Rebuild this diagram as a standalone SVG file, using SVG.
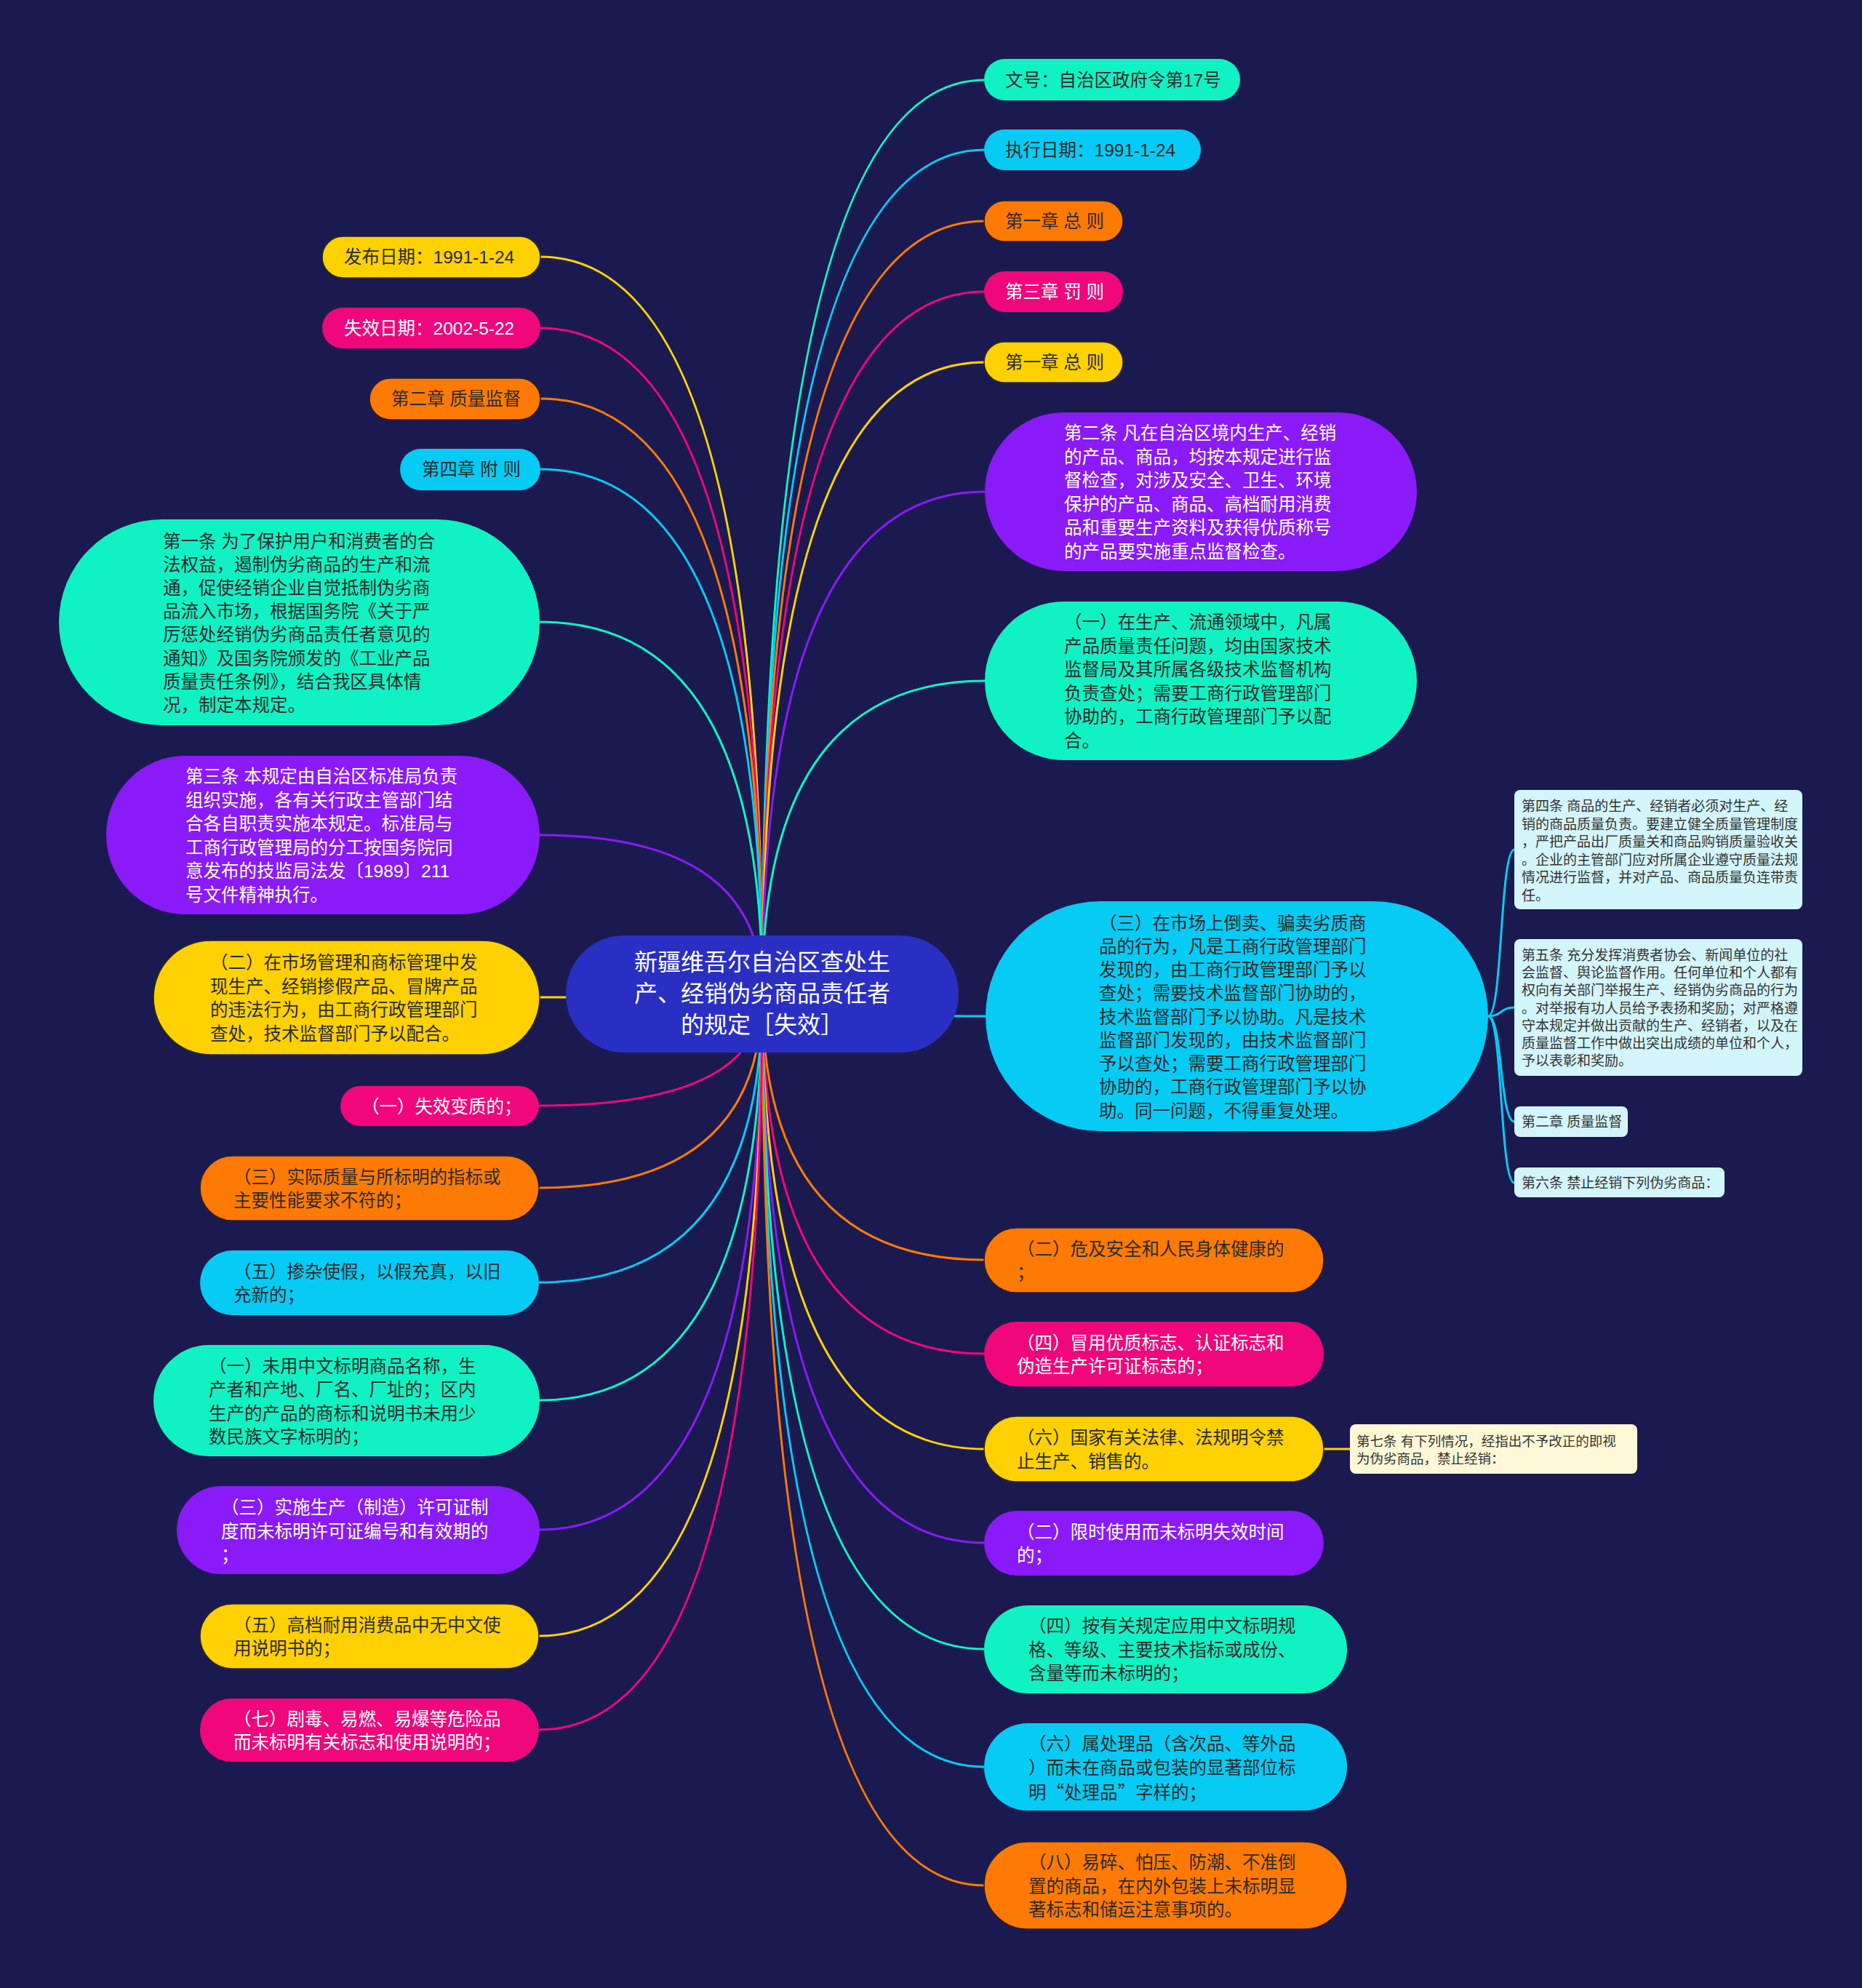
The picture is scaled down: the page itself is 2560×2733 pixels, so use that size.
<svg xmlns="http://www.w3.org/2000/svg" width="2560" height="2733" viewBox="0 0 2560 2733">
<style>
.mint{fill:#10F2C4}.cyan{fill:#06CBF4}.orange{fill:#FF7A05;stroke:#2a2020;stroke-width:1.5}.pink{fill:#F0077B}.yellow{fill:#FFD103;stroke:#2a2a1a;stroke-width:1.5}.purple{fill:#8A1AF7}.root{fill:#2A2FC4}.sub{fill:#D3F5FC}.note{fill:#FFF8D6}
.c{fill:none;stroke-width:3}
.cm{stroke:#10F2C4}.cc{stroke:#06CBF4}.co{stroke:#FF7A05}.cp{stroke:#F0077B}.cy{stroke:#FFD103}.cu{stroke:#8A1AF7}
text{font-family:"Liberation Sans","Noto Sans CJK SC",sans-serif;font-size:24.5px;dominant-baseline:central}
.cjk{font-family:"Noto Sans CJK SC",sans-serif}
.d{fill:#2b2b2b}.w{fill:#ffffff}
.rt{font-size:32px;text-anchor:middle;fill:#ffffff}
.s{font-size:19px;fill:#333333}
.s2{font-size:18.5px;fill:#333333}
</style>
<rect x="0" y="0" width="2560" height="2733" fill="#1B1A50"/>
<g id="connectors">
<path class="c cm" d="M1048 1366 Q1048 110 1353 110"/>
<path class="c cc" d="M1048 1366 Q1048 206 1353 206"/>
<path class="c co" d="M1048 1366 Q1048 304 1353 304"/>
<path class="c cp" d="M1048 1366 Q1048 401 1353 401"/>
<path class="c cy" d="M1048 1366 Q1048 498 1353 498"/>
<path class="c cu" d="M1048 1366 Q1048 676 1354 676"/>
<path class="c cm" d="M1048 1366 Q1048 936 1354 936"/>
<path class="c cc" d="M1048 1366 Q1048 1397 1355 1397"/>
<path class="c co" d="M1048 1366 Q1048 1732 1353 1732"/>
<path class="c cp" d="M1048 1366 Q1048 1861 1353 1861"/>
<path class="c cy" d="M1048 1366 Q1048 1992 1353 1992"/>
<path class="c cu" d="M1048 1366 Q1048 2121 1353 2121"/>
<path class="c cm" d="M1048 1366 Q1048 2267 1353 2267"/>
<path class="c cc" d="M1048 1366 Q1048 2429 1353 2429"/>
<path class="c co" d="M1048 1366 Q1048 2592 1353 2592"/>
<path class="c cy" d="M1048 1366 Q1048 353 743 353"/>
<path class="c cp" d="M1048 1366 Q1048 451 743 451"/>
<path class="c co" d="M1048 1366 Q1048 548 743 548"/>
<path class="c cc" d="M1048 1366 Q1048 645 743 645"/>
<path class="c cm" d="M1048 1366 Q1048 855 742 855"/>
<path class="c cu" d="M1048 1366 Q1048 1148 742 1148"/>
<path class="c cy" d="M1048 1366 Q1048 1371 742 1371"/>
<path class="c cp" d="M1048 1366 Q1048 1520 741 1520"/>
<path class="c co" d="M1048 1366 Q1048 1633 741 1633"/>
<path class="c cc" d="M1048 1366 Q1048 1763 741 1763"/>
<path class="c cm" d="M1048 1366 Q1048 1925 742 1925"/>
<path class="c cu" d="M1048 1366 Q1048 2103 742 2103"/>
<path class="c cy" d="M1048 1366 Q1048 2249 741 2249"/>
<path class="c cp" d="M1048 1366 Q1048 2378 741 2378"/>
<path class="c cc" d="M2046 1397 C2066 1397 2062 1168 2082 1168"/>
<path class="c cc" d="M2046 1397 C2066 1397 2062 1385 2082 1385"/>
<path class="c cc" d="M2046 1397 C2066 1397 2062 1542 2082 1542"/>
<path class="c cc" d="M2046 1397 C2066 1397 2062 1626 2082 1626"/>
<path class="c cy" d="M1820 1992 L1856 1992"/>
</g>
<g id="root">
<rect class="root" x="778" y="1286" width="540" height="161" rx="80"/>
<text class="rt"><tspan x="1048" y="1323">新疆维吾尔自治区查处生</tspan><tspan x="1048" y="1366">产、经销伪劣商品责任者</tspan><tspan x="1048" y="1409">的规定［失效］</tspan></text>
</g>
<g id="n-wenhao">
<rect class="mint" x="1353" y="81" width="352" height="57" rx="28.5"/>
<text class="d" x="1382" y="110">文号：自治区政府令第17号</text>
</g>
<g id="n-zhixing">
<rect class="cyan" x="1353" y="178" width="298" height="56" rx="28"/>
<text class="d" x="1382" y="206">执行日期：1991-1-24</text>
</g>
<g id="n-ch1a">
<rect class="orange" x="1353" y="276" width="191" height="56" rx="28"/>
<text class="d" x="1382" y="304">第一章 总 则</text>
</g>
<g id="n-ch3">
<rect class="pink" x="1353" y="373" width="191" height="56" rx="28"/>
<text class="w" x="1382" y="401">第三章 罚 则</text>
</g>
<g id="n-ch1b">
<rect class="yellow" x="1353" y="470" width="191" height="56" rx="28"/>
<text class="d" x="1382" y="498">第一章 总 则</text>
</g>
<g id="n-art2">
<rect class="purple" x="1354" y="567" width="594" height="218" rx="109"/>
<text class="w"><tspan x="1463" y="595">第二条 凡在自治区境内生产、经销</tspan><tspan x="1463" y="627.5">的产品、商品，均按本规定进行监</tspan><tspan x="1463" y="660">督检查，对涉及安全、卫生、环境</tspan><tspan x="1463" y="692.5">保护的产品、商品、高档耐用消费</tspan><tspan x="1463" y="725">品和重要生产资料及获得优质称号</tspan><tspan x="1463" y="757.5">的产品要实施重点监督检查。</tspan></text>
</g>
<g id="n-r-1">
<rect class="mint" x="1354" y="827" width="594" height="218" rx="109"/>
<text class="d"><tspan x="1463" y="855">（一）在生产、流通领域中，凡属</tspan><tspan x="1463" y="887.5">产品质量责任问题，均由国家技术</tspan><tspan x="1463" y="920">监督局及其所属各级技术监督机构</tspan><tspan x="1463" y="952.5">负责查处；需要工商行政管理部门</tspan><tspan x="1463" y="985">协助的，工商行政管理部门予以配</tspan><tspan x="1463" y="1017.5">合。</tspan></text>
</g>
<g id="n-r-3">
<rect class="cyan" x="1355" y="1239" width="691" height="316" rx="158"/>
<text class="d"><tspan x="1511" y="1268.5">（三）在市场上倒卖、骗卖劣质商</tspan><tspan x="1511" y="1300.8">品的行为，凡是工商行政管理部门</tspan><tspan x="1511" y="1333">发现的，由工商行政管理部门予以</tspan><tspan x="1511" y="1365.3">查处；需要技术监督部门协助的，</tspan><tspan x="1511" y="1397.5">技术监督部门予以协助。凡是技术</tspan><tspan x="1511" y="1429.8">监督部门发现的，由技术监督部门</tspan><tspan x="1511" y="1462">予以查处；需要工商行政管理部门</tspan><tspan x="1511" y="1494.3">协助的，工商行政管理部门予以协</tspan><tspan x="1511" y="1526.5">助。同一问题，不得重复处理。</tspan></text>
</g>
<g id="n-art4">
<rect class="sub" x="2082" y="1086" width="396" height="164" rx="8"/>
<text class="s"><tspan x="2092" y="1108">第四条 商品的生产、经销者必须对生产、经</tspan><tspan x="2092" y="1132.5">销的商品质量负责。要建立健全质量管理制度</tspan><tspan x="2092" y="1157">，严把产品出厂质量关和商品购销质量验收关</tspan><tspan x="2092" y="1181.5">。企业的主管部门应对所属企业遵守质量法规</tspan><tspan x="2092" y="1206">情况进行监督，并对产品、商品质量负连带责</tspan><tspan x="2092" y="1230.5">任。</tspan></text>
</g>
<g id="n-art5">
<rect class="sub" x="2082" y="1291" width="396" height="188" rx="8"/>
<text class="s"><tspan x="2092" y="1313">第五条 充分发挥消费者协会、新闻单位的社</tspan><tspan x="2092" y="1337.2">会监督、舆论监督作用。任何单位和个人都有</tspan><tspan x="2092" y="1361.4">权向有关部门举报生产、经销伪劣商品的行为</tspan><tspan x="2092" y="1385.6">。对举报有功人员给予表扬和奖励；对严格遵</tspan><tspan x="2092" y="1409.8">守本规定并做出贡献的生产、经销者，以及在</tspan><tspan x="2092" y="1434">质量监督工作中做出突出成绩的单位和个人，</tspan><tspan x="2092" y="1458.2">予以表彰和奖励。</tspan></text>
</g>
<g id="n-ch2-sub">
<rect class="sub" x="2082" y="1521" width="156" height="42" rx="8"/>
<text class="s" x="2092" y="1542">第二章 质量监督</text>
</g>
<g id="n-art6">
<rect class="sub" x="2082" y="1605" width="289" height="41" rx="8"/>
<text class="s" x="2092" y="1626">第六条 禁止经销下列伪劣商品：</text>
</g>
<g id="n-art7">
<rect class="note" x="1856" y="1958" width="395" height="68" rx="8"/>
<text class="s2"><tspan x="1865" y="1981">第七条 有下列情况，经指出不予改正的即视</tspan><tspan x="1865" y="2005">为伪劣商品，禁止经销：</tspan></text>
</g>
<g id="n-r-2b">
<rect class="orange" x="1353" y="1688" width="467" height="89" rx="44.5"/>
<text class="d"><tspan x="1398" y="1716.5">（二）危及安全和人民身体健康的</tspan><tspan x="1398" y="1749">；</tspan></text>
</g>
<g id="n-r-4b">
<rect class="pink" x="1353" y="1817" width="467" height="89" rx="44.5"/>
<text class="w"><tspan x="1398" y="1845.5">（四）冒用优质标志、认证标志和</tspan><tspan x="1398" y="1878">伪造生产许可证标志的；</tspan></text>
</g>
<g id="n-r-6b">
<rect class="yellow" x="1353" y="1947" width="467" height="90" rx="45"/>
<text class="d"><tspan x="1398" y="1976">（六）国家有关法律、法规明令禁</tspan><tspan x="1398" y="2008.5">止生产、销售的。</tspan></text>
</g>
<g id="n-r-2c">
<rect class="purple" x="1353" y="2077" width="467" height="89" rx="44.5"/>
<text class="w"><tspan x="1398" y="2105.5">（二）限时使用而未标明失效时间</tspan><tspan x="1398" y="2138">的；</tspan></text>
</g>
<g id="n-r-4c">
<rect class="mint" x="1353" y="2207" width="499" height="121" rx="60.5"/>
<text class="d"><tspan x="1414" y="2235">（四）按有关规定应用中文标明规</tspan><tspan x="1414" y="2267.5">格、等级、主要技术指标或成份、</tspan><tspan x="1414" y="2300">含量等而未标明的；</tspan></text>
</g>
<g id="n-r-6c">
<rect class="cyan" x="1353" y="2369" width="499" height="120" rx="60"/>
<text class="d"><tspan x="1414" y="2397">（六）属处理品（含次品、等外品</tspan><tspan x="1414" y="2429.5">）而未在商品或包装的显著部位标</tspan><tspan class="cjk" x="1414" y="2462">明“处理品”字样的；</tspan></text>
</g>
<g id="n-r-8c">
<rect class="orange" x="1353" y="2532" width="499" height="120" rx="60"/>
<text class="d"><tspan x="1414" y="2560">（八）易碎、怕压、防潮、不准倒</tspan><tspan x="1414" y="2592.5">置的商品，在内外包装上未标明显</tspan><tspan x="1414" y="2625">著标志和储运注意事项的。</tspan></text>
</g>
<g id="n-fabu">
<rect class="yellow" x="443" y="325" width="300" height="57" rx="28.5"/>
<text class="d" x="473" y="353.5">发布日期：1991-1-24</text>
</g>
<g id="n-shixiao">
<rect class="pink" x="443" y="423" width="300" height="56" rx="28"/>
<text class="w" x="473" y="451">失效日期：2002-5-22</text>
</g>
<g id="n-ch2">
<rect class="orange" x="508" y="520" width="235" height="57" rx="28.5"/>
<text class="d" x="538" y="548.5">第二章 质量监督</text>
</g>
<g id="n-ch4">
<rect class="cyan" x="550" y="617" width="193" height="57" rx="28.5"/>
<text class="d" x="580" y="645.5">第四章 附 则</text>
</g>
<g id="n-art1">
<rect class="mint" x="81" y="714" width="661" height="283" rx="141.5"/>
<text class="d"><tspan x="224" y="743.5">第一条 为了保护用户和消费者的合</tspan><tspan x="224" y="775.7">法权益，遏制伪劣商品的生产和流</tspan><tspan x="224" y="807.9">通，促使经销企业自觉抵制伪劣商</tspan><tspan x="224" y="840.1">品流入市场，根据国务院《关于严</tspan><tspan x="224" y="872.3">厉惩处经销伪劣商品责任者意见的</tspan><tspan x="224" y="904.5">通知》及国务院颁发的《工业产品</tspan><tspan x="224" y="936.7">质量责任条例》，结合我区具体情</tspan><tspan x="224" y="968.9">况，制定本规定。</tspan></text>
</g>
<g id="n-art3">
<rect class="purple" x="146" y="1039" width="596" height="218" rx="109"/>
<text class="w"><tspan x="255" y="1067">第三条 本规定由自治区标准局负责</tspan><tspan x="255" y="1099.5">组织实施，各有关行政主管部门结</tspan><tspan x="255" y="1132">合各自职责实施本规定。标准局与</tspan><tspan x="255" y="1164.5">工商行政管理局的分工按国务院同</tspan><tspan x="255" y="1197">意发布的技监局法发〔1989〕211</tspan><tspan x="255" y="1229.5">号文件精神执行。</tspan></text>
</g>
<g id="n-l-2a">
<rect class="yellow" x="211" y="1293" width="531" height="157" rx="78.5"/>
<text class="d"><tspan x="289" y="1323">（二）在市场管理和商标管理中发</tspan><tspan x="289" y="1355.5">现生产、经销掺假产品、冒牌产品</tspan><tspan x="289" y="1388">的违法行为，由工商行政管理部门</tspan><tspan x="289" y="1420.5">查处，技术监督部门予以配合。</tspan></text>
</g>
<g id="n-l-1b">
<rect class="pink" x="468" y="1493" width="273" height="55" rx="27.5"/>
<text class="w" x="497" y="1521">（一）失效变质的；</text>
</g>
<g id="n-l-3b">
<rect class="orange" x="275" y="1589" width="466" height="89" rx="44.5"/>
<text class="d"><tspan x="321" y="1617.5">（三）实际质量与所标明的指标或</tspan><tspan x="321" y="1650">主要性能要求不符的；</tspan></text>
</g>
<g id="n-l-5b">
<rect class="cyan" x="275" y="1719" width="466" height="89" rx="44.5"/>
<text class="d"><tspan x="321" y="1747.5">（五）掺杂使假，以假充真，以旧</tspan><tspan x="321" y="1780">充新的；</tspan></text>
</g>
<g id="n-l-1c">
<rect class="mint" x="211" y="1849" width="531" height="153" rx="76.5"/>
<text class="d"><tspan x="287" y="1877.5">（一）未用中文标明商品名称，生</tspan><tspan x="287" y="1910">产者和产地、厂名、厂址的；区内</tspan><tspan x="287" y="1942.5">生产的产品的商标和说明书未用少</tspan><tspan x="287" y="1975">数民族文字标明的；</tspan></text>
</g>
<g id="n-l-3c">
<rect class="purple" x="243" y="2043" width="499" height="121" rx="60.5"/>
<text class="w"><tspan x="304" y="2072">（三）实施生产（制造）许可证制</tspan><tspan x="304" y="2104.5">度而未标明许可证编号和有效期的</tspan><tspan x="304" y="2137">；</tspan></text>
</g>
<g id="n-l-5c">
<rect class="yellow" x="275" y="2205" width="466" height="89" rx="44.5"/>
<text class="d"><tspan x="321" y="2233.5">（五）高档耐用消费品中无中文使</tspan><tspan x="321" y="2266">用说明书的；</tspan></text>
</g>
<g id="n-l-7c">
<rect class="pink" x="275" y="2335" width="466" height="87" rx="43.5"/>
<text class="w"><tspan x="321" y="2362.5">（七）剧毒、易燃、易爆等危险品</tspan><tspan x="321" y="2395">而未标明有关标志和使用说明的；</tspan></text>
</g>
</svg>
